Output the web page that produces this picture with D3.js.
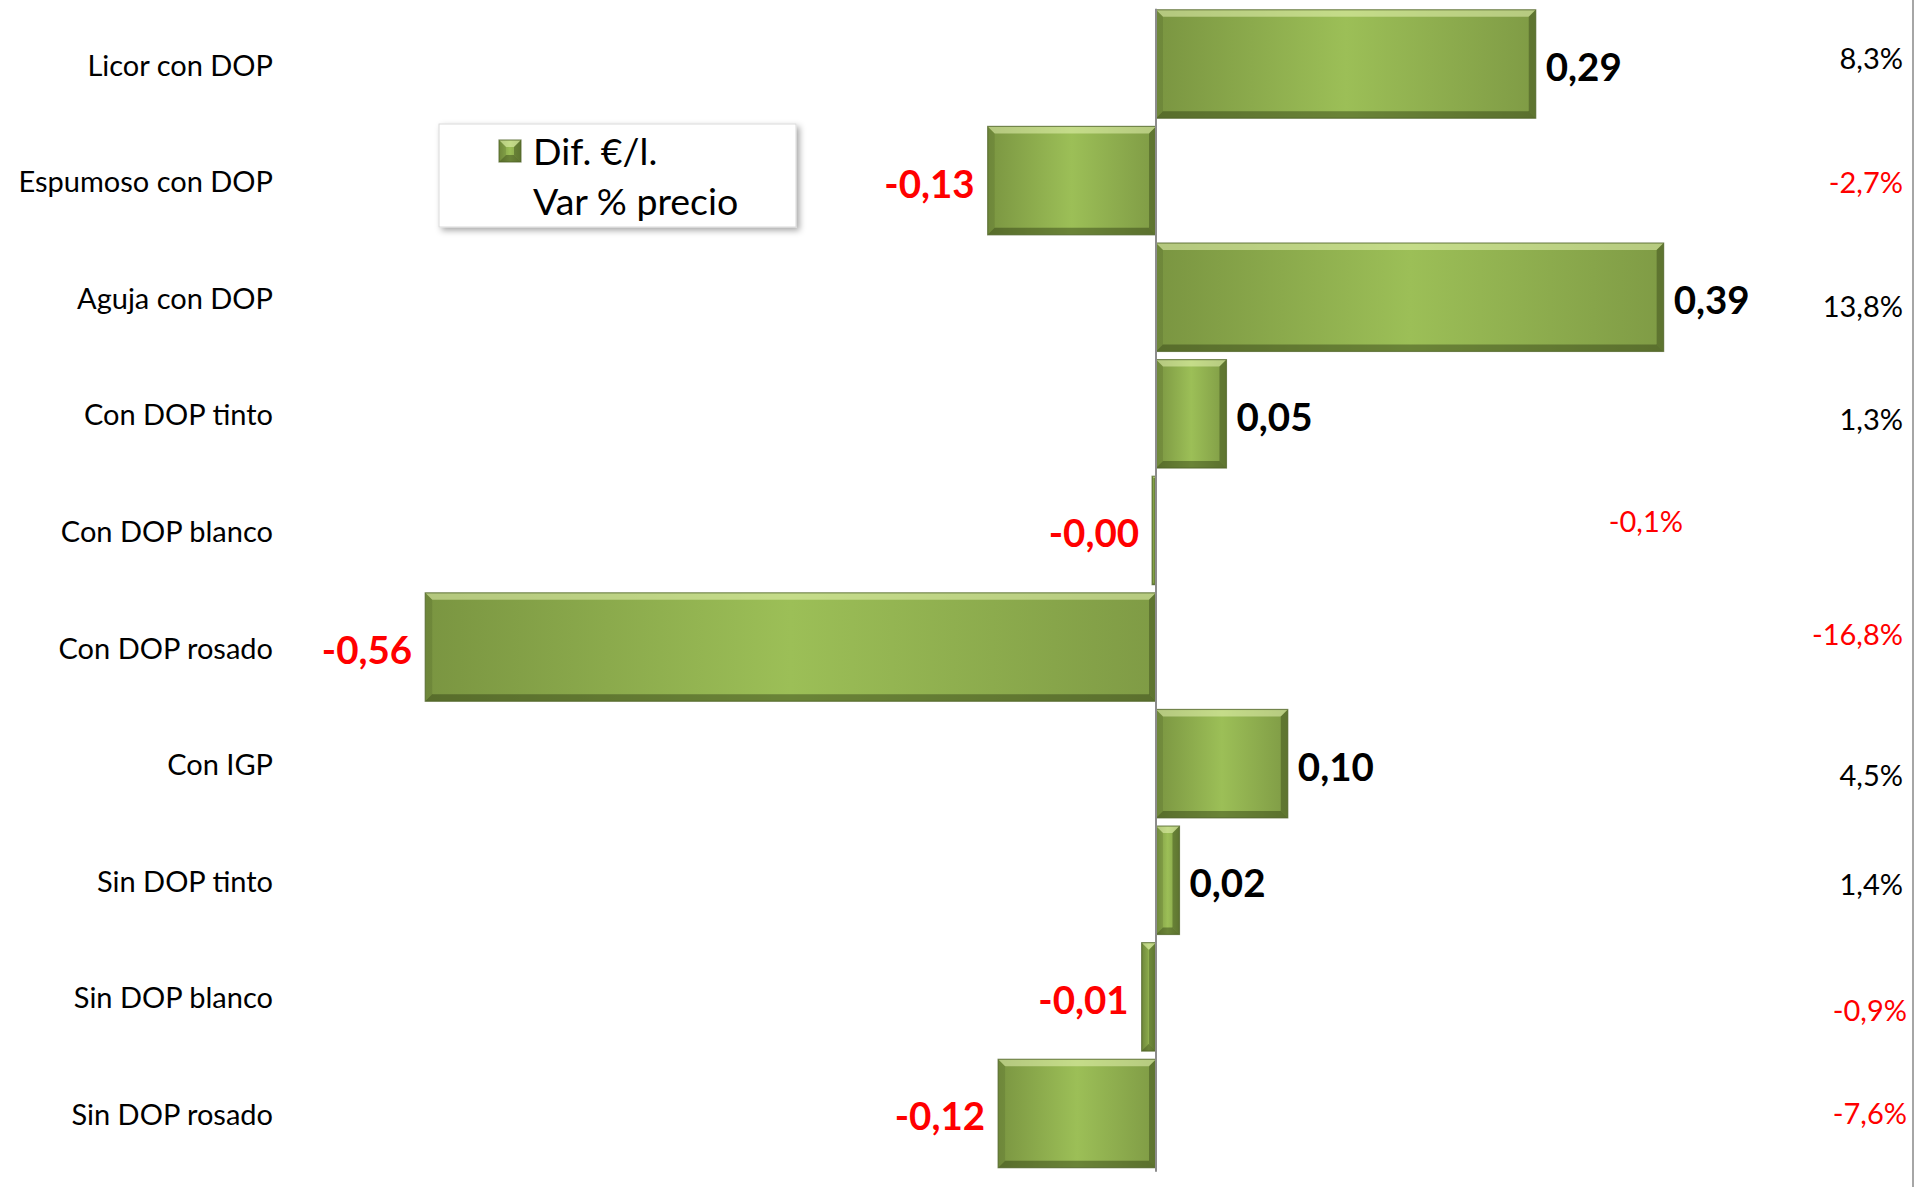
<!DOCTYPE html>
<html>
<head>
<meta charset="utf-8">
<script src="https://cdn.jsdelivr.net/npm/d3@7"></script>
<style>
  body { margin: 0; background: #fff; }
  text { font-family: Lato, "Open Sans", sans-serif; }
</style>
</head>
<body>
<div id="chart"></div>
<script>
const categories = ["Licor con DOP", "Espumoso con DOP", "Aguja con DOP", "Con DOP tinto", "Con DOP blanco",
  "Con DOP rosado", "Con IGP", "Sin DOP tinto", "Sin DOP blanco", "Sin DOP rosado"];
const difValues = [0.291, -0.129, 0.389, 0.054, -0.003, -0.56, 0.101, 0.018, -0.011, -0.121];
const varPct = [8.3, -2.7, 13.8, 1.3, -0.1, -16.8, 4.5, 1.4, -0.9, -7.6];
const seriesNames = ["Dif. €/l.", "Var % precio"];

// hand-placed offsets of the % labels, as in the original
const pctNudge = [[0, -7], [0, 1], [0, 8], [0, 5], [-220, -10], [0, -14], [0, 11], [0, 3], [4, 13], [4, -1]];

const width = 1932, height = 1187;

const svg = d3.select("#chart")
  .append("svg")
  .attr("width", width)
  .attr("height", height);

const defs = svg.append("defs");
const grad = defs.append("linearGradient").attr("id", "barFill")
  .attr("x1", 0).attr("x2", 1).attr("y1", 0).attr("y2", 0);
grad.append("stop").attr("offset", "0%").attr("stop-color", "#7a9541");
grad.append("stop").attr("offset", "50%").attr("stop-color", "#9cbf57");
grad.append("stop").attr("offset", "100%").attr("stop-color", "#7f9b45");

const shadow = defs.append("filter").attr("id", "shadow")
  .attr("x", "-10%").attr("y", "-10%").attr("width", "130%").attr("height", "140%");
shadow.append("feDropShadow").attr("dx", 3).attr("dy", 3).attr("stdDeviation", 3)
  .attr("flood-color", "#000").attr("flood-opacity", 0.35);

const x = d3.scaleLinear()
  .domain([-0.6, 0.6])
  .range([373, 1939]);

const y = d3.scaleBand()
  .domain(categories)
  .range([5.7, 1171.8])
  .paddingInner(0.07)
  .paddingOuter(0.035);

function fmtDif(v) {
  return (v < 0 ? "-" : "") + Math.abs(v).toFixed(2).replace(".", ",");
}
function fmtPct(v) {
  return (v < 0 ? "-" : "") + Math.abs(v).toFixed(1).replace(".", ",") + "%";
}

// bevelled bar
function bevelRect(g, x0, y0, w, h) {
  const x1 = x0 + w, y1 = y0 + h;
  const b = Math.min(7, w / 2, h / 2);
  g.append("rect").attr("x", x0).attr("y", y0).attr("width", w).attr("height", h)
    .attr("fill", "url(#barFill)");
  const faces = [
    { p: [[x0, y0], [x1, y0], [x1 - b, y0 + b], [x0 + b, y0 + b]], c: "#eefabb", o: 0.5 },
    { p: [[x0, y1], [x1, y1], [x1 - b, y1 - b], [x0 + b, y1 - b]], c: "#2e3c12", o: 0.45 },
    { p: [[x0, y0], [x0 + b, y0 + b], [x0 + b, y1 - b], [x0, y1]], c: "#2e3c12", o: 0.15 },
    { p: [[x1, y0], [x1 - b, y0 + b], [x1 - b, y1 - b], [x1, y1]], c: "#2e3c12", o: 0.4 }
  ];
  faces.forEach(f => {
    g.append("polygon").attr("points", f.p.map(d => d.join(",")).join(" "))
      .attr("fill", f.c).attr("fill-opacity", f.o);
  });
  g.append("rect").attr("x", x0).attr("y", y0).attr("width", w).attr("height", h)
    .attr("fill", "none").attr("stroke", "#4f6228").attr("stroke-opacity", 0.7).attr("stroke-width", 1.2);
}

// bars
const bars = svg.append("g");
difValues.forEach((v, i) => {
  const g = bars.append("g");
  const x0 = Math.min(x(0), x(v));
  const w = Math.max(Math.abs(x(v) - x(0)), 3);
  bevelRect(g, x0, y(categories[i]), w, y.bandwidth());
});

// zero axis
svg.append("line")
  .attr("x1", x(0)).attr("x2", x(0))
  .attr("y1", y.range()[0] + 3).attr("y2", y.range()[1])
  .attr("stroke", "#8c8c8c").attr("stroke-width", 2);

// category labels
svg.append("g").selectAll("text")
  .data(categories)
  .join("text")
  .attr("x", 273)
  .attr("y", d => y(d) + y.bandwidth() / 2)
  .attr("text-anchor", "end")
  .attr("dominant-baseline", "central")
  .attr("font-size", 29)
  .attr("fill", "#000")
  .text(d => d);

// value labels
svg.append("g").selectAll("text")
  .data(difValues)
  .join("text")
  .attr("x", d => d >= 0 ? x(d) + 10 : x(d) - 13)
  .attr("y", (d, i) => y(categories[i]) + y.bandwidth() / 2 + 2)
  .attr("text-anchor", d => d >= 0 ? "start" : "end")
  .attr("dominant-baseline", "central")
  .attr("font-size", 38.5)
  .attr("font-weight", "bold")
  .attr("fill", d => d < 0 ? "#ff0000" : "#000")
  .text(fmtDif);

// percent labels
svg.append("g").selectAll("text")
  .data(varPct)
  .join("text")
  .attr("x", (d, i) => 1903 + pctNudge[i][0])
  .attr("y", (d, i) => y(categories[i]) + y.bandwidth() / 2 + pctNudge[i][1])
  .attr("text-anchor", "end")
  .attr("dominant-baseline", "central")
  .attr("font-size", 29)
  .attr("fill", d => d < 0 ? "#ff0000" : "#000")
  .text(fmtPct);

// right border
svg.append("line")
  .attr("x1", 1913).attr("x2", 1913).attr("y1", 0).attr("y2", height)
  .attr("stroke", "#a6a6a6").attr("stroke-width", 2);

// legend
const legend = svg.append("g").attr("transform", "translate(439,124)");
legend.append("rect").attr("width", 357).attr("height", 103)
  .attr("fill", "#fff").attr("stroke", "#d9d9d9").attr("filter", "url(#shadow)");
bevelRect(legend.append("g"), 60, 16, 22, 22);
legend.selectAll("text.lg")
  .data(seriesNames)
  .join("text")
  .attr("class", "lg")
  .attr("x", 94)
  .attr("y", (d, i) => 26 + i * 50)
  .attr("dominant-baseline", "central")
  .attr("font-size", 37.5)
  .attr("fill", "#000")
  .text(d => d);
</script>
</body>
</html>
